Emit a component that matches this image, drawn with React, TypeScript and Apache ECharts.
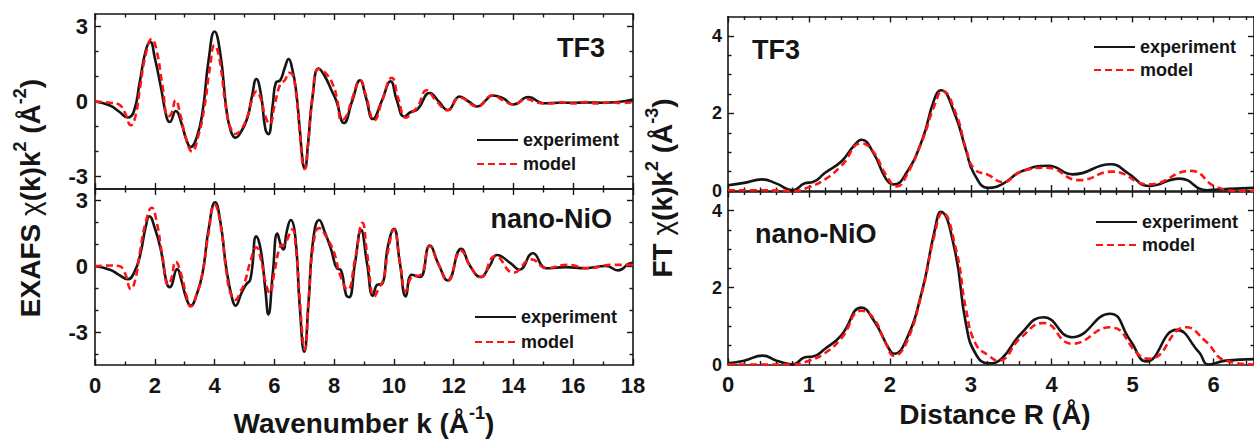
import React, { useEffect, useRef } from "react";
import * as echarts from "echarts";

// ---------- data: EXAFS k-space, TF3 ----------
const tf3ExpK = [0, 0.5, 0.8, 1.1, 1.3, 1.5, 1.7, 1.85, 2.0, 2.2, 2.4, 2.5, 2.7, 2.9, 3.05, 3.2, 3.4, 3.6, 3.8, 4.0, 4.2, 4.4, 4.55, 4.7, 4.9, 5.1, 5.25, 5.4, 5.55, 5.7, 5.8, 5.95, 6.05, 6.2, 6.35, 6.48, 6.6, 6.72, 6.85, 6.96, 7.02, 7.12, 7.28, 7.48, 7.67, 7.94, 8.07, 8.33, 8.61, 8.87, 9.06, 9.3, 9.6, 9.89, 10.1, 10.35, 10.55, 10.8, 11.2, 11.5, 11.8, 12.2, 12.5, 12.8, 13.05, 13.3, 13.65, 14.0, 14.5, 15.0, 15.5, 16.0, 16.5, 17.0, 17.5, 18.0];
const tf3ExpChi = [0, -0.16, -0.4, -0.64, -0.4, 0.8, 2.05, 2.38, 1.75, 0.6, -0.65, -0.82, -0.38, -0.9, -1.5, -1.82, -1.45, -0.4, 1.65, 2.8, 1.85, -0.35, -1.2, -1.45, -1.18, -0.65, 0.2, 0.9, 0.3, -1.1, -1.31, -0.1, 0.75, 0.85, 1.35, 1.7, 1.3, 0.5, -1.1, -2.5, -2.66, -1.8, 0.2, 1.32, 1.05, 0.38, 0.04, -0.86, 0.04, 0.85, 0.18, -0.7, 0.04, 0.81, 0.04, -0.61, -0.43, -0.3, 0.34, 0, -0.34, 0.2, 0.0, -0.2, 0.02, 0.24, 0.13, -0.12, 0.18, -0.07, -0.05, -0.05, -0.04, -0.05, -0.02, 0.08];
const tf3ModK = [0, 0.5, 0.8, 1.0, 1.2, 1.35, 1.5, 1.7, 1.9, 2.05, 2.25, 2.45, 2.55, 2.7, 2.85, 3.05, 3.25, 3.45, 3.65, 3.85, 4.0, 4.15, 4.4, 4.55, 4.7, 4.9, 5.1, 5.25, 5.4, 5.55, 5.7, 5.85, 6.0, 6.2, 6.35, 6.5, 6.6, 6.72, 6.85, 6.96, 7.02, 7.12, 7.28, 7.48, 7.7, 7.95, 8.1, 8.25, 8.4, 8.6, 8.88, 9.05, 9.35, 9.6, 9.93, 10.15, 10.4, 10.6, 10.8, 11.1, 11.4, 11.8, 12.2, 12.8, 13.3, 13.65, 14.0, 14.45, 14.8, 15.2, 15.6, 16.0, 16.4, 16.8, 17.2, 17.6, 18.0];
const tf3ModChi = [0, -0.05, -0.12, -0.45, -0.95, -0.6, 0.5, 1.9, 2.5, 2.1, 0.7, -0.6, -0.5, 0.05, -0.5, -1.5, -2.0, -1.4, -0.3, 1.4, 2.25, 1.8, -0.4, -1.1, -1.3, -1.1, -0.6, 0.05, 0.4, 0.1, -0.6, -0.9, -0.2, 0.7, 0.85, 1.15, 1.1, 0.4, -1.2, -2.6, -2.7, -1.8, 0.2, 1.3, 1.15, 0.7, 0.1, -0.75, -0.6, 0.1, 0.85, 0.3, -0.75, 0.0, 0.95, 0.1, -0.65, -0.45, -0.2, 0.45, 0.05, -0.35, 0.15, -0.2, 0.25, 0.05, -0.12, 0.1, -0.05, -0.08, -0.03, -0.08, -0.02, -0.08, -0.03, -0.06, -0.02];

// ---------- data: EXAFS k-space, nano-NiO ----------
const nanoExpK = [0, 0.5, 0.8, 1.1, 1.3, 1.5, 1.7, 1.82, 2.0, 2.2, 2.4, 2.5, 2.75, 2.9, 3.05, 3.2, 3.4, 3.6, 3.8, 4.02, 4.2, 4.4, 4.6, 4.7, 4.9, 5.05, 5.2, 5.4, 5.55, 5.7, 5.8, 5.95, 6.1, 6.22, 6.3, 6.42, 6.55, 6.7, 6.85, 7.0, 7.15, 7.3, 7.5, 7.7, 7.9, 8.1, 8.22, 8.4, 8.5, 8.7, 8.9, 9.1, 9.3, 9.45, 9.6, 9.8, 10.0, 10.2, 10.4, 10.6, 10.87, 11.2, 11.5, 11.8, 12.25, 12.55, 12.9, 13.2, 13.45, 13.9, 14.2, 14.65, 15.1, 15.75, 16.4, 17.1, 17.5, 17.9, 18.0];
const nanoExpChi = [0, -0.17, -0.4, -0.6, -0.32, 0.44, 1.8, 2.26, 1.73, 0.75, -0.78, -0.96, -0.14, -0.7, -1.45, -1.8, -1.31, -0.32, 1.66, 2.9, 1.96, -0.17, -1.54, -1.8, -1.23, -0.85, -0.6, 1.35, 0.7, -1.08, -2.2, -0.3, 1.48, 0.95, 0.75, 1.6, 2.09, 1.35, -1.84, -3.9, -1.54, 1.2, 2.09, 1.5, 0.75, -0.12, -0.17, -1.31, -1.42, 0.14, 1.63, 0.14, -1.35, -0.85, -0.82, 0.9, 1.69, 0.14, -1.38, -0.4, -0.5, 0.93, 0.06, -0.66, 0.78, 0.0, -0.5, 0.0, 0.5, 0.13, -0.17, 0.58, -0.1, -0.05, -0.1, 0, -0.2, 0.13, 0.15];
const nanoModK = [0, 0.5, 0.8, 1.0, 1.2, 1.35, 1.5, 1.7, 1.9, 2.05, 2.25, 2.45, 2.55, 2.7, 2.9, 3.05, 3.2, 3.4, 3.6, 3.8, 4.0, 4.2, 4.4, 4.55, 4.7, 4.85, 5.0, 5.2, 5.4, 5.55, 5.7, 5.85, 6.0, 6.2, 6.35, 6.6, 6.72, 6.85, 6.97, 7.02, 7.15, 7.3, 7.5, 7.75, 8.0, 8.2, 8.45, 8.7, 8.95, 9.1, 9.35, 9.5, 9.65, 9.82, 10.0, 10.2, 10.4, 10.6, 10.9, 11.2, 11.5, 11.8, 12.25, 12.55, 12.9, 13.4, 14.0, 14.6, 15.1, 15.8, 16.5, 17.3, 18.0];
const nanoModChi = [0, 0.02, 0.0, -0.32, -1.05, -0.6, 0.6, 2.0, 2.65, 2.1, 0.5, -0.85, -0.6, 0.2, -0.47, -1.3, -1.84, -1.3, -0.3, 1.5, 2.8, 1.9, -0.3, -1.3, -1.54, -1.2, -0.78, 0.2, 0.85, 0.3, -0.7, -1.23, -0.3, 0.9, 1.0, 1.66, 0.8, -1.5, -3.6, -3.8, -1.5, 0.9, 1.72, 1.3, 0.6, -0.4, -1.08, 0.3, 1.96, 0.6, -1.38, -1.0, -0.6, 0.8, 1.66, 0.2, -1.15, -0.5, -0.4, 0.9, 0.05, -0.66, 0.7, 0.0, -0.5, 0.45, -0.3, 0.3, -0.1, 0.05, -0.1, 0.05, 0.05];

// ---------- data: Fourier transform R-space, TF3 ----------
const tf3FtExpR = [0, 0.2, 0.42, 0.6, 0.8, 0.95, 1.05, 1.2, 1.4, 1.55, 1.65, 1.8, 1.95, 2.05, 2.2, 2.4, 2.55, 2.63, 2.8, 2.94, 3.04, 3.22, 3.4, 3.62, 3.96, 4.26, 4.73, 4.95, 5.2, 5.58, 5.92, 6.04, 6.5];
const tf3FtExpMag = [0.15, 0.21, 0.3, 0.19, 0.02, 0.2, 0.23, 0.47, 0.76, 1.15, 1.32, 0.97, 0.32, 0.17, 0.45, 1.32, 2.37, 2.6, 2.0, 1.06, 0.45, 0.08, 0.19, 0.5, 0.65, 0.43, 0.69, 0.45, 0.13, 0.32, 0.02, 0.04, 0.08];
const tf3FtModR = [0, 0.4, 0.8, 1.0, 1.2, 1.4, 1.65, 1.8, 1.95, 2.09, 2.2, 2.4, 2.55, 2.65, 2.82, 2.94, 3.04, 3.22, 3.4, 3.62, 3.94, 4.34, 4.75, 5.2, 5.72, 6.04, 6.36, 6.5];
const tf3FtModMag = [0.02, 0.02, 0.0, 0.1, 0.3, 0.65, 1.23, 1.0, 0.42, 0.12, 0.38, 1.3, 2.2, 2.58, 1.97, 1.1, 0.58, 0.41, 0.23, 0.5, 0.6, 0.28, 0.5, 0.17, 0.52, 0.1, 0.0, 0.0];

// ---------- data: Fourier transform R-space, nano-NiO ----------
const nanoFtExpR = [0, 0.2, 0.43, 0.6, 0.8, 0.95, 1.05, 1.2, 1.4, 1.65, 1.8, 2.0, 2.05, 2.2, 2.4, 2.55, 2.63, 2.8, 2.94, 3.06, 3.22, 3.38, 3.62, 3.9, 4.25, 4.72, 4.97, 5.17, 5.54, 5.82, 5.94, 6.15, 6.5];
const nanoFtExpMag = [0.03, 0.1, 0.23, 0.1, 0.0, 0.19, 0.21, 0.41, 0.76, 1.48, 1.15, 0.37, 0.28, 0.63, 1.93, 3.45, 3.97, 3.0, 1.06, 0.28, 0.03, 0.15, 0.8, 1.23, 0.71, 1.32, 0.63, 0.08, 0.9, 0.32, 0.0, 0.1, 0.14];
const nanoFtModR = [0, 0.4, 0.8, 1.0, 1.2, 1.4, 1.65, 1.8, 1.95, 2.05, 2.2, 2.4, 2.55, 2.65, 2.82, 2.94, 3.06, 3.22, 3.34, 3.62, 3.9, 4.25, 4.72, 5.09, 5.21, 5.66, 5.9, 6.15, 6.5];
const nanoFtModMag = [0.0, 0.0, 0.0, 0.1, 0.3, 0.68, 1.4, 1.2, 0.55, 0.23, 0.55, 1.9, 3.35, 3.95, 2.97, 1.45, 0.54, 0.23, 0.1, 0.7, 1.08, 0.54, 0.97, 0.23, 0.15, 0.97, 0.61, 0.1, 0.0];

// ---------- tick values ----------
const kMajorTicks = [0, 2, 4, 6, 8, 10, 12, 14, 16, 18];
const kMinorTicks = [1, 3, 5, 7, 9, 11, 13, 15, 17];
const rMajorTicks = [0, 1, 2, 3, 4, 5, 6];
const rMinorTicks = [0.2, 0.4, 0.6, 0.8, 1.2, 1.4, 1.6, 1.8, 2.2, 2.4, 2.6, 2.8, 3.2, 3.4, 3.6, 3.8, 4.2, 4.4, 4.6, 4.8, 5.2, 5.4, 5.6, 5.8, 6.2, 6.4];
const chiMajorTicks = [-3, 0, 3];
const chiTopMinorTicks = [-2, -1, 1, 2];
const chiBottomMinorTicks = [-4, -2, -1, 1, 2];
const ftMajorTicks = [0, 2, 4];
const ftMinorTicks = [0.5, 1, 1.5, 2.5, 3, 3.5];

const SERIES_NAMES = ["experiment", "model"];
const PANEL_LABELS = ["TF3", "nano-NiO"];

const FONT = "'Liberation Sans', Arial, Helvetica, sans-serif";
const INK = "#151515";
const RED = "#ff1414";

function zip(xs: number[], ys: number[]) {
  return xs.map((x, i) => [x, ys[i]]);
}

function makeXAxes(gridIndex: number, min: number, max: number, major: number[], minor: number[], showLabels: boolean) {
  const mk = (position: string, ticks: number[], len: number, line: boolean, label: boolean) => ({
    type: "value",
    gridIndex,
    min,
    max,
    position,
    splitLine: { show: false },
    axisLine: { show: line, onZero: false, lineStyle: { color: INK, width: 1.6 } },
    axisTick: { show: true, inside: true, length: len, customValues: ticks, lineStyle: { color: INK, width: 1.4 } },
    axisLabel: label
      ? { show: true, customValues: ticks, margin: 9, color: INK, fontSize: 22, fontWeight: "bold", fontFamily: FONT }
      : { show: false },
  });
  return [
    mk("bottom", major, 6, true, showLabels),
    mk("bottom", minor, 3.5, false, false),
    mk("top", major, 6, true, false),
    mk("top", minor, 3.5, false, false),
  ];
}

function makeYAxes(gridIndex: number, min: number, max: number, major: number[], minor: number[], margin: number, fontSize: number) {
  const mk = (position: string, ticks: number[], len: number, line: boolean, label: boolean) => ({
    type: "value",
    gridIndex,
    min,
    max,
    position,
    splitLine: { show: false },
    axisLine: { show: line, onZero: false, lineStyle: { color: INK, width: 1.6 } },
    axisTick: { show: true, inside: true, length: len, customValues: ticks, lineStyle: { color: INK, width: 1.4 } },
    axisLabel: label
      ? { show: true, customValues: ticks, margin, color: INK, fontSize, fontWeight: "bold", fontFamily: FONT, lineHeight: fontSize - 4 }
      : { show: false },
  });
  return [
    mk("left", major, 6, true, true),
    mk("left", minor, 3.5, false, false),
    mk("right", major, 6, true, false),
    mk("right", minor, 3.5, false, false),
  ];
}

function makePair(gridIndex: number, exp: number[][], mod: number[][], clip: boolean) {
  const common = {
    type: "line",
    xAxisIndex: gridIndex * 4,
    yAxisIndex: gridIndex * 4,
    showSymbol: false,
    symbol: "none",
    smooth: 0.5,
    clip,
  };
  return [
    { ...common, name: SERIES_NAMES[0], data: exp, lineStyle: { color: INK, width: 2.6 }, itemStyle: { color: INK }, z: 2 },
    { ...common, name: SERIES_NAMES[1], data: mod, lineStyle: { color: RED, width: 2.6, type: [7, 4] }, itemStyle: { color: RED }, z: 3 },
  ];
}

function makeLegend(left: number, top: number, gap: number) {
  return {
    left,
    top,
    orient: "vertical",
    padding: 0,
    itemWidth: 41,
    itemHeight: 14,
    itemGap: gap,
    selectedMode: false,
    data: SERIES_NAMES,
    itemStyle: { opacity: 0, borderWidth: 0 },
    textStyle: { fontSize: 18, fontWeight: "bold", fontFamily: FONT, color: INK },
  };
}

const rich = {
  b: { fontSize: 28, fontWeight: "bold", fontFamily: FONT, fill: INK, lineHeight: 38 },
  c: { fontSize: 28, fontWeight: "normal", fontFamily: FONT, fill: INK, lineHeight: 38 },
  s: { fontSize: 18, fontWeight: "bold", fontFamily: FONT, fill: INK, verticalAlign: "top" },
};

function titleText(x: number, y: number, text: string, rotate: boolean) {
  return {
    type: "text",
    x,
    y,
    rotation: rotate ? Math.PI / 2 : 0,
    style: {
      text,
      rich,
      fill: INK,
      font: `bold 28px ${FONT}`,
      align: "center",
      verticalAlign: "middle",
      textAlign: "center",
      textVerticalAlign: "middle",
    },
  };
}

function panelLabel(x: number, y: number, text: string, align: string) {
  return {
    type: "text",
    x,
    y,
    style: {
      text,
      fill: INK,
      font: `bold 27px ${FONT}`,
      align,
      verticalAlign: "middle",
      textAlign: align,
      textVerticalAlign: "middle",
    },
  };
}

function buildOption() {
  return {
    animation: false,
    backgroundColor: "#ffffff",
    grid: [
      { left: 95, top: 14, width: 538, height: 175 },
      { left: 95, top: 189, width: 538, height: 176 },
      { left: 728, top: 16.5, width: 535, height: 174.5 },
      { left: 728, top: 191.5, width: 535, height: 173 },
    ],
    xAxis: [
      ...makeXAxes(0, 0, 18, kMajorTicks, kMinorTicks, false),
      ...makeXAxes(1, 0, 18, kMajorTicks, kMinorTicks, true),
      ...makeXAxes(2, 0, 6.5, rMajorTicks, rMinorTicks, false),
      ...makeXAxes(3, 0, 6.5, rMajorTicks, rMinorTicks, true),
    ],
    yAxis: [
      ...makeYAxes(0, -3.5, 3.5, chiMajorTicks, chiTopMinorTicks, 7, 22),
      ...makeYAxes(1, -4.5, 3.5, chiMajorTicks, chiBottomMinorTicks, 7, 22),
      ...makeYAxes(2, 0, 4.5, ftMajorTicks, ftMinorTicks, 6, 18),
      ...makeYAxes(3, 0, 4.5, ftMajorTicks, ftMinorTicks, 6, 18),
    ],
    legend: [
      makeLegend(476, 131, 6),
      makeLegend(474, 308, 7),
      makeLegend(1093, 38, 5),
      makeLegend(1095, 213, 5),
    ],
    series: [
      ...makePair(0, zip(tf3ExpK, tf3ExpChi), zip(tf3ModK, tf3ModChi), true),
      ...makePair(1, zip(nanoExpK, nanoExpChi), zip(nanoModK, nanoModChi), true),
      ...makePair(2, zip(tf3FtExpR, tf3FtExpMag), zip(tf3FtModR, tf3FtModMag), false),
      ...makePair(3, zip(nanoFtExpR, nanoFtExpMag), zip(nanoFtModR, nanoFtModMag), false),
    ],
    graphic: [
      panelLabel(605, 48, PANEL_LABELS[0], "right"),
      panelLabel(612, 219, PANEL_LABELS[1], "right"),
      panelLabel(752, 50, PANEL_LABELS[0], "left"),
      panelLabel(755, 234, PANEL_LABELS[1], "left"),
      titleText(30, 198, "{b|EXAFS }{c|χ}{b|(k)k}{s|2}{b| (Å}{s|-2}{b|)}", true),
      titleText(662, 188, "{b|FT }{c|χ}{b|(k)k}{s|2}{b| (Å}{s|-3}{b|)}", true),
      titleText(364, 423, "{b|Wavenumber k (Å}{s|-1}{b|)}", false),
      titleText(995, 414, "{b|Distance R (Å)}", false),
    ],
  };
}

export default function App() {
  const ref = useRef<HTMLDivElement>(null);
  useEffect(() => {
    if (!ref.current) return;
    const chart = echarts.init(ref.current, null, { renderer: "svg" });
    chart.setOption(buildOption() as any);
    return () => {
      chart.dispose();
    };
  }, []);
  return (
    <div
      ref={ref}
      style={{ position: "fixed", left: 0, top: 0, width: 1254, height: 439, background: "#ffffff" }}
    />
  );
}
